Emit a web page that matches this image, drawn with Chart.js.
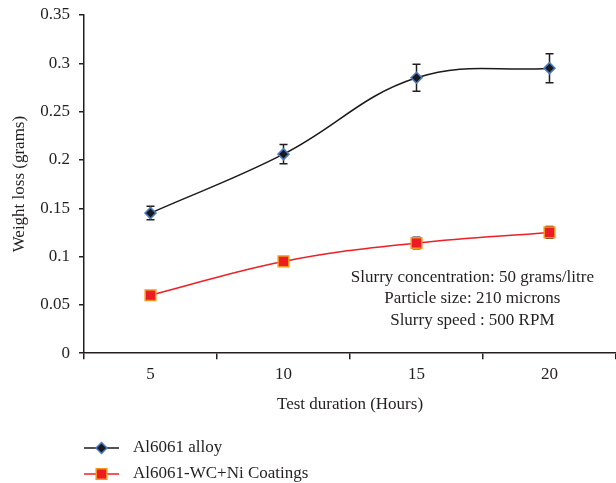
<!DOCTYPE html>
<html>
<head>
<meta charset="utf-8">
<script src="https://cdn.jsdelivr.net/npm/chart.js@4"></script>
<style>
html,body{margin:0;padding:0;background:#fff;}
#wrap{width:616px;height:483px;position:relative;}
</style>
</head>
<body>
<div id="wrap"><canvas id="wearChart" width="616" height="483"></canvas></div>
<script>

/* =========================
   DATA
========================= */

let hours = ["5","10","15","20"]

let alloyLoss = [0.145,0.206,0.285,0.295]
let alloyErr = [0.007,0.010,0.014,0.015]

let coatLoss = [0.060,0.095,0.114,0.125]
let coatErr = [0.003,0.004,0.006,0.006]

let yTicks = [0,0.05,0.1,0.15,0.2,0.25,0.3,0.35]

let seriesNames = ["Al6061 alloy","Al6061-WC+Ni Coatings"]

let noteLines = [
"Slurry concentration: 50 grams/litre",
"Particle size: 210 microns",
"Slurry speed : 500 RPM"
]

let FONT = "'Liberation Serif', 'Times New Roman', serif"
let INK = "#231f20"

/* =========================
   ERROR BARS
========================= */

let errorBars = {
id:"errorBars",
beforeDatasetsDraw(chart){
let ctx = chart.ctx
let x = chart.scales.x
let y = chart.scales.y
ctx.save()
ctx.strokeStyle = INK
ctx.lineWidth = 1.5
chart.data.datasets.forEach((ds,i)=>{
if(!ds.errors) return
ds.data.forEach((v,j)=>{
let px = x.getPixelForValue(j)
let top = y.getPixelForValue(v+ds.errors[j])
let bot = y.getPixelForValue(v-ds.errors[j])
ctx.beginPath()
ctx.moveTo(px,top); ctx.lineTo(px,bot)
ctx.moveTo(px-4,top); ctx.lineTo(px+4,top)
ctx.moveTo(px-4,bot); ctx.lineTo(px+4,bot)
ctx.stroke()
})
})
ctx.restore()
}
}

/* =========================
   NOTE + LEGEND
========================= */

let extras = {
id:"extras",
afterDraw(chart){
let ctx = chart.ctx
let area = chart.chartArea
ctx.save()
ctx.fillStyle = INK
ctx.font = "17px "+FONT
ctx.textAlign = "center"
ctx.textBaseline = "middle"
let cx = area.left + (area.right-area.left)*0.73
let cy = area.top + (area.bottom-area.top)*0.775
noteLines.forEach((t,i)=>ctx.fillText(t,cx,cy+i*21.5))

/* legend */
let lx = 84, ly = 448
chart.data.datasets.forEach((ds,i)=>{
let yy = ly + i*26
ctx.strokeStyle = ds.borderColor
ctx.lineWidth = 1.5
ctx.beginPath()
ctx.moveTo(lx,yy); ctx.lineTo(lx+35,yy)
ctx.stroke()
ctx.fillStyle = ds.pointBackgroundColor
ctx.strokeStyle = ds.pointBorderColor
ctx.lineWidth = ds.pointBorderWidth
Chart.helpers.drawPoint(ctx,{
pointStyle:ds.pointStyle,
radius:ds.pointRadius,
borderWidth:ds.pointBorderWidth
},lx+17.5,yy)
ctx.fillStyle = INK
ctx.font = "17px "+FONT
ctx.textAlign = "left"
ctx.textBaseline = "middle"
ctx.fillText(ds.label,lx+49,yy)
})
ctx.restore()
}
}

/* =========================
   CHART
========================= */

let ctx = document.getElementById("wearChart").getContext("2d")

let chart = new Chart(ctx,{
type:"line",
data:{
labels:hours,
datasets:[
{
label:seriesNames[0],
data:alloyLoss,
errors:alloyErr,
borderColor:"#1a1a1a",
borderWidth:1.5,
tension:0.4,
pointStyle:"rectRot",
pointRadius:5.5,
pointBorderWidth:1.5,
pointBackgroundColor:"#1a1a1a",
pointBorderColor:"#4a7cc9"
},
{
label:seriesNames[1],
data:coatLoss,
errors:coatErr,
borderColor:"#ee2024",
borderWidth:1.5,
tension:0.4,
pointStyle:"rect",
pointRadius:7.5,
pointBorderWidth:1.5,
pointBackgroundColor:"#ed1c24",
pointBorderColor:"#f7941d"
}
]
},
plugins:[errorBars,extras],
options:{
responsive:false,
animation:false,
layout:{autoPadding:false,padding:{top:0,right:0,left:0,bottom:68}},
plugins:{
legend:{display:false},
tooltip:{enabled:false}
},
scales:{
x:{
offset:true,
grid:{offset:true,drawOnChartArea:false,color:INK,lineWidth:1.5,tickLength:6},
border:{color:INK,width:1.5},
ticks:{color:INK,font:{family:FONT,size:17},padding:5.5},
title:{display:true,text:"Test duration (Hours)",color:INK,font:{family:FONT,size:17},padding:{top:4,bottom:0}}
},
y:{
min:0,
max:0.35,
afterBuildTicks(scale){scale.ticks = yTicks.map(v=>({value:v}))},
afterFit(scale){scale.width = 84; scale.paddingTop = 15},
grid:{drawOnChartArea:false,color:INK,lineWidth:1.5,tickLength:5},
border:{color:INK,width:1.5},
ticks:{color:INK,font:{family:FONT,size:17},padding:9,callback:v=>String(+v.toFixed(2))},
title:{display:true,text:"Weight loss (grams)",color:INK,font:{family:FONT,size:17},padding:{top:9,bottom:0}}
}
}
}
})

</script>
</body>
</html>
